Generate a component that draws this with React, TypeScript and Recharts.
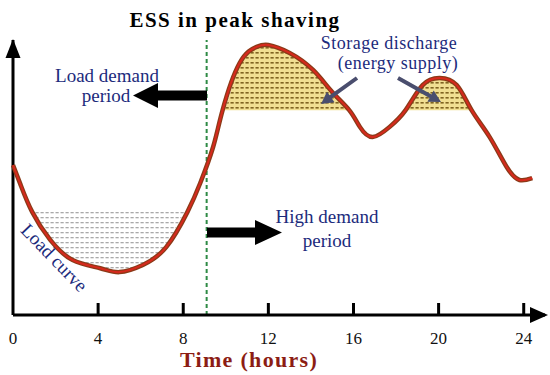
import React from 'react';
import { ComposedChart, Area, Line, XAxis, YAxis, ReferenceLine } from 'recharts';

// hours along the day and load level (0-100, arbitrary units)
const hours = [0, 0.35, 0.9, 1.75, 2.8, 4.1, 5.0, 6.1, 7.2, 8.2, 8.8, 9.4, 9.85, 10.65, 11.45, 12.0, 13.0, 14.1, 15.0, 15.8, 16.3, 16.9, 17.7, 18.45, 19.25, 20.05, 20.85, 21.55, 22.4, 23.2, 23.8, 24.4];
const load = [54.5, 47.5, 37.5, 27.3, 20, 17, 15.6, 18.2, 24.7, 37.5, 48, 61, 74.5, 91.6, 97.5, 98.2, 95.3, 89.1, 81.1, 74.5, 68.4, 64.7, 68.4, 74.5, 83.6, 86.2, 83.6, 74.5, 64.7, 53.8, 49.1, 49.8];
const xTicks = [0, 4, 8, 12, 16, 20, 24];
const chargeLevel = 37.5;
const dischargeLevel = 74.5;
const peakStart = 9.1;

const data = hours.map((h, i) => ({
  h,
  load: load[i],
  charge: load[i] < chargeLevel ? [load[i], chargeLevel] : [chargeLevel, chargeLevel],
  discharge: load[i] > dischargeLevel ? [dischargeLevel, load[i]] : [dischargeLevel, dischargeLevel],
}));

const SERIF = "'Liberation Serif', 'Times New Roman', serif";
const NAVY = '#1c2b7c';

const HourTick = (props: any) => {
  const { x, y, payload } = props;
  return (
    <g>
      {payload.value !== 0 && <line x1={x} x2={x} y1={y - 12} y2={y} stroke="#000" strokeWidth={3} />}
      <text x={x} y={y + 29} textAnchor="middle" fontSize={17} fontFamily={SERIF} fill="#111">
        {payload.value}
      </text>
    </g>
  );
};

function arrow(x1: number, y1: number, x2: number, y2: number, w: number, hl: number, hw: number) {
  const dx = x2 - x1, dy = y2 - y1;
  const len = Math.hypot(dx, dy);
  const ux = dx / len, uy = dy / len;
  const px = -uy, py = ux;
  const bx = x2 - ux * hl, by = y2 - uy * hl;
  const pts = [
    [x1 + px * w / 2, y1 + py * w / 2],
    [bx + px * w / 2, by + py * w / 2],
    [bx + px * hw / 2, by + py * hw / 2],
    [x2, y2],
    [bx - px * hw / 2, by - py * hw / 2],
    [bx - px * w / 2, by - py * w / 2],
    [x1 - px * w / 2, y1 - py * w / 2],
  ];
  return pts.map((p) => p.join(',')).join(' ');
}

export default function App() {
  return (
    <div style={{ position: 'fixed', left: 0, top: 0, width: 550, height: 375, background: '#fff' }}>
      <ComposedChart width={550} height={375} data={data} margin={{ top: 40, right: 5, left: 13, bottom: 30 }}>
        <defs>
          <pattern id="goldDots" width="5" height="5" patternUnits="userSpaceOnUse">
            <rect width="5" height="5" fill="#f1df92" />
            <rect x="0.5" y="2" width="3.2" height="1.6" fill="#806421" />
          </pattern>
          <pattern id="grayDots" width="5" height="5" patternUnits="userSpaceOnUse">
            <rect x="0.5" y="2" width="3.2" height="1.3" fill="#a9a9a9" />
          </pattern>
        </defs>
        <XAxis
          dataKey="h"
          type="number"
          domain={[0, 25]}
          ticks={xTicks}
          height={30}
          tickSize={0}
          tickMargin={0}
          tickLine={false}
          axisLine={{ stroke: '#000', strokeWidth: 3 }}
          tick={<HourTick />}
        />
        <YAxis type="number" domain={[0, 100]} hide />
        <ReferenceLine x={0} stroke="#000" strokeWidth={3} />
        <ReferenceLine x={peakStart} stroke="#2e8a45" strokeWidth={2} strokeDasharray="4 3" />
        <Area type="monotone" dataKey="charge" stroke="none" fill="url(#grayDots)" fillOpacity={1} isAnimationActive={false} />
        <Area type="monotone" dataKey="discharge" stroke="none" fill="url(#goldDots)" fillOpacity={1} isAnimationActive={false} />
        <Line type="natural" dataKey="load" stroke="#8b3a18" strokeWidth={4.5} dot={false} isAnimationActive={false} />
        <Line type="natural" dataKey="load" stroke="#d7291d" strokeWidth={2} dot={false} isAnimationActive={false} />
      </ComposedChart>
      <svg width={550} height={375} style={{ position: 'absolute', left: 0, top: 0, pointerEvents: 'none' }}>
        {/* axis arrow heads */}
        <polygon points="13,39 5.5,58 20.5,58" fill="#000" />
        <polygon points="548,315 530,307 530,323" fill="#000" />

        <text x={235} y={27} textAnchor="middle" fontSize={21} fontWeight="bold" letterSpacing={1.5} fontFamily={SERIF} fill="#000">
          ESS in peak shaving
        </text>

        <text x={107} y={82} textAnchor="middle" fontSize={19} fontFamily={SERIF} fill={NAVY}>Load demand</text>
        <text x={106} y={102} textAnchor="middle" fontSize={19} fontFamily={SERIF} fill={NAVY}>period</text>
        <polygon points={arrow(207, 95.5, 133, 95.5, 10, 25, 25)} fill="#000" />

        <text x={327} y={223} textAnchor="middle" fontSize={19} fontFamily={SERIF} fill={NAVY}>High demand</text>
        <text x={327} y={247} textAnchor="middle" fontSize={19} fontFamily={SERIF} fill={NAVY}>period</text>
        <polygon points={arrow(207, 232.5, 282, 232.5, 10, 27, 25)} fill="#000" />

        <text x={389} y={49} textAnchor="middle" fontSize={18} letterSpacing={0.5} fontFamily={SERIF} fill={NAVY}>Storage discharge</text>
        <text x={398} y={69} textAnchor="middle" fontSize={18} letterSpacing={0.5} fontFamily={SERIF} fill={NAVY}>(energy supply)</text>
        <polygon points={arrow(357, 78, 321, 104, 4, 12, 13)} fill="#4a4e6e" />
        <polygon points={arrow(398, 78, 441, 102, 4, 12, 13)} fill="#4a4e6e" />

        <text x={54} y={264} textAnchor="middle" fontSize={19} fontFamily={SERIF} fill={NAVY} transform="rotate(46 54 258)">
          Load curve
        </text>

        <text x={249} y={367} textAnchor="middle" fontSize={22} fontWeight="bold" letterSpacing={1.3} fontFamily={SERIF} fill="#8c1d14">
          Time (hours)
        </text>
      </svg>
    </div>
  );
}
